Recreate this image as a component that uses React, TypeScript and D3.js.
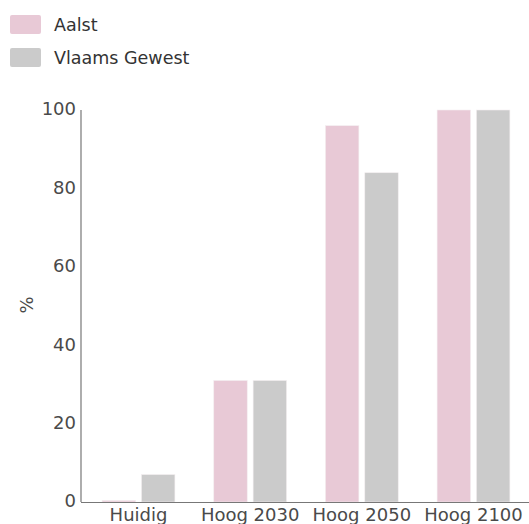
import React from "react";
import * as d3 from "d3";

const categories = ["Huidig", "Hoog 2030", "Hoog 2050", "Hoog 2100"];
const series = ["Aalst", "Vlaams Gewest"];
const aalstValues = [0.4, 31, 96, 100];
const vlaamsValues = [7, 31, 84, 100];
const yTicks = [0, 20, 40, 60, 80, 100];
const colors = ["#e8c9d6", "#cbcbcb"];

const W = 529;
const H = 524;
const FONT = "'DejaVu Sans', Verdana, sans-serif";

export default function App() {
  const y = d3.scaleLinear().domain([0, 100]).range([502, 110]);
  const x0 = d3
    .scaleBand<string>()
    .domain(categories)
    .range([82, 530])
    .paddingInner(0.348)
    .paddingOuter(0.18);
  const x1 = d3
    .scaleBand<string>()
    .domain(series)
    .range([0, x0.bandwidth()])
    .paddingInner(0.15)
    .paddingOuter(0);
  const values = [aalstValues, vlaamsValues];

  return (
    <svg
      width={W}
      height={H}
      style={{ position: "absolute", left: 0, top: 0, fontFamily: FONT }}
    >
      {/* legend */}
      {series.map((s, i) => (
        <g key={s} transform={`translate(10, ${15 + i * 33})`}>
          <rect width={31} height={19} rx={2} fill={colors[i]} />
          <text x={44} y={16} fontSize={17.5} fill="#333">
            {s}
          </text>
        </g>
      ))}

      {/* bars */}
      {categories.map((c, ci) => (
        <g key={c} transform={`translate(${x0(c)}, 0)`}>
          {series.map((s, si) => {
            const v = values[si][ci];
            return (
              <rect
                key={s}
                x={x1(s)}
                y={y(v)}
                width={x1.bandwidth()}
                height={y(0) - y(v)}
                fill={colors[si]}
                stroke="#f3eef0"
                strokeWidth={0.6}
              />
            );
          })}
        </g>
      ))}

      {/* y axis */}
      <line x1={81} x2={81} y1={y(100)} y2={y(0)} stroke="#777" strokeWidth={1.2} />
      {yTicks.map((t) => (
        <text
          key={t}
          x={76}
          y={y(t)}
          textAnchor="end"
          fontSize={18}
          fill="#4a4a4a"
          dy="0.3em"
        >
          {t}
        </text>
      ))}
      <text
        transform={`translate(33, ${y(50) - 1}) rotate(-90)`}
        textAnchor="middle"
        fontSize={18}
        fill="#4a4a4a"
      >
        %
      </text>

      {/* x axis */}
      <line x1={81} x2={W} y1={y(0) + 0.5} y2={y(0) + 0.5} stroke="#777" strokeWidth={1.2} />
      {categories.map((c) => (
        <text
          key={c}
          x={(x0(c) as number) + x0.bandwidth() / 2}
          y={521}
          textAnchor="middle"
          fontSize={18}
          fill="#4a4a4a"
        >
          {c}
        </text>
      ))}
    </svg>
  );
}
